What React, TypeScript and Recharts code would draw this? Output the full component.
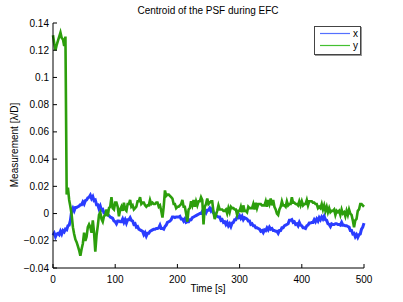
import React from 'react';
import { LineChart, Line, XAxis, YAxis, Legend } from 'recharts';

// samples every 2 s from 0 to 500 s
const SAMPLE_STEP = 2;

// x centroid, in units of 1e-3 λ/D
const xCentroid = [
  -16, -14.5, -17, -15, -14.5, -15.5, -13, -15, -12.5, -13.5,
  -11.5, -12, -9, -8.5, -5, 2, 4, 2, 4.5, 4.5,
  5, 5.5, 6.5, 6.5, 8.5, 7, 9.5, 10, 11.5, 12,
  13.5, 11, 12.5, 9.5, 10, 6.5, 6.5, 3.5, 5.5, 2.5,
  3, 0.5, 0.5, 0, -1, -1.5, -2.5, -3, -3.5, -5.5,
  -6, -7.5, -5.5, -5.5, -6, -6, -4, -6.5, -4.5, -7,
  -4.5, -4.5, -3, -5, -5.5, -8, -7.5, -10, -9.5, -11.5,
  -12, -12.5, -13, -15.5, -14, -16.5, -14.5, -14.5, -13, -12.5,
  -12, -11.5, -11.5, -11, -11, -10.5, -8.5, -11, -11, -11.5,
  -9.5, -8.5, -6.5, -6, -5.5, -4.5, -2.5, -2.5, -3, -2.5,
  -2.5, -2.5, -2, -4, -4, -5.5, -4, -6.5, -6, -6,
  -4.5, -4.5, -3, -2.5, -2, -1.5, -1, -0.5, 0, 0,
  1.5, -0.5, 2, 0.5, 2.5, 2.5, 4, 2, 3.5, 0.5,
  0, -1.5, -2, -2.5, -2.5, -5, -4.5, -6.5, -6, -8,
  -6.5, -9, -7.5, -9.5, -7, -6.5, -4.5, -4.5, -2.5, -3,
  -1.5, -3.5, -2, -4.5, -3, -3.5, -4, -5.5, -5.5, -8,
  -7.5, -9, -9, -10.5, -10.5, -11, -11.5, -13, -12.5, -14,
  -12, -12.5, -10.5, -12, -10, -11.5, -11, -12.5, -12.5, -13,
  -13, -14.5, -12.5, -12.5, -10.5, -10.5, -9, -8.5, -8, -7.5,
  -5, -5, -4.5, -6.5, -6, -8, -7.5, -9, -6.5, -8.5,
  -9, -10.5, -10.5, -11, -9, -8.5, -7, -7, -6.5, -6.5,
  -4.5, -6, -4, -5.5, -3, -4.5, -2.5, -4, -2, -4.5,
  -5, -7.5, -8, -9.5, -7.5, -8, -8, -7.5, -7.5, -8,
  -8, -8.5, -6.5, -8.5, -8.5, -9, -9, -9.5, -10, -12.5,
  -12.5, -15, -14.5, -17, -15.5, -17.5, -15.5, -15, -11.5, -10,
  -7,
];

// y centroid, in units of 1e-3 λ/D
const yCentroid = [
  131, 125, 120, 124, 127, 130, 133, 129, 128, 123,
  130, 14, 19, 10, 5, -1, -10, -15, -19, -21,
  -24, -27, -31, -26, -22, -14, -20, -17, -10, -8,
  -10, -14, -5, -14, -28, -16, -9, -1, 1, -4,
  -6, -2, -1, 3, -2, 4, 5, 12, 4, 3,
  8, 8, 5, -2, 3, 5, 2, 8, 3, 2,
  7, 7, 10, 5, 6, 3, 4, 5, 9, 9,
  12, 7, 8, 8, 6, 5, 6, 6, 10, 7,
  8, 7, 7, 8, 8, 5, 6, 2, -3, 5,
  17, 13, 14, 14, 13, 12, 11, 7, 7, 4,
  5, 5, 6, 7, 10, 5, 5, 0, -6, 3,
  4, 9, 6, 10, 5, 9, 6, 9, 9, 12,
  10, -8, 5, 7, 11, 7, 8, 9, 9, 1,
  -4, -1, 2, 6, 3, 3, 3, 2, 2, 3,
  0, 4, 1, 5, 4, 4, 3, 3, -1, 2,
  2, 5, 1, 6, 2, 2, 1, 5, 4, 4,
  4, 7, 3, 8, 4, 7, 7, 7, 6, 6,
  6, 9, 5, 10, 7, 11, 6, 10, 5, 3,
  0, -1, 3, 5, 9, 6, 6, 5, 9, 6,
  7, 7, 12, 8, 8, 7, 7, 6, 9, 6,
  9, 6, 7, 7, 10, 6, 9, 9, 9, 8,
  8, 7, 7, 4, 5, 4, 7, 3, 6, 2,
  5, 1, 4, 1, 2, 2, 3, -1, 2, 1,
  2, -1, 3, 0, 1, -2, 2, -1, 3, 0,
  -1, -5, -10, -5, -4, 2, 3, 7, 7, 6,
  5,
];

const xTicks = [0, 100, 200, 300, 400, 500];
const yTicks = [-0.04, -0.02, 0, 0.02, 0.04, 0.06, 0.08, 0.1, 0.12, 0.14];

const data = xCentroid.map((v, i) => ({
  t: i * SAMPLE_STEP,
  x: v / 1000,
  y: yCentroid[i] / 1000,
}));

const FONT = '"Liberation Sans", Arial, sans-serif';
const BLUE = '#2a3cff';
const GREEN = '#2c9e0c';

const fmtY = (v: number) => String(+v.toFixed(2)).replace('-', '\u2212');

const BottomTick = (props: any) => {
  const { x, y, payload } = props;
  return (
    <g>
      <line x1={x} x2={x} y1={y - 6} y2={y - 10} stroke="#000" />
      <text x={x} y={y + 9} textAnchor="middle" fontSize={10} fontFamily={FONT} fill="#000">
        {payload.value}
      </text>
    </g>
  );
};

const LeftTick = (props: any) => {
  const { x, y, payload } = props;
  return (
    <g>
      <line x1={x + 4} x2={x + 8} y1={y} y2={y} stroke="#000" />
      <text x={x} y={y + 3.5} textAnchor="end" fontSize={10} fontFamily={FONT} fill="#000">
        {fmtY(payload.value)}
      </text>
    </g>
  );
};

const TopTick = (props: any) => {
  const { x, y } = props;
  return <line x1={x} x2={x} y1={y} y2={y + 4} stroke="#000" />;
};

const RightTick = (props: any) => {
  const { x, y } = props;
  return <line x1={x} x2={x - 4} y1={y} y2={y} stroke="#000" />;
};

const LegendBox = () => (
  <div
    style={{
      width: 45,
      height: 25,
      border: '1px solid #444',
      boxShadow: '1px 1px 0 #999',
      background: '#fff',
      fontFamily: FONT,
      fontSize: 10,
      lineHeight: '11px',
      padding: '1px 0',
    }}
  >
    {[
      { name: 'x', color: '#5570ff' },
      { name: 'y', color: '#44c030' },
    ].map((s) => (
      <div key={s.name} style={{ display: 'flex', alignItems: 'center', height: 11.5 }}>
        <svg width={38} height={11}>
          <line x1={5} x2={35} y1={5.5} y2={5.5} stroke={s.color} strokeWidth={1.2} />
        </svg>
        <span>{s.name}</span>
      </div>
    ))}
  </div>
);

export default function App() {
  return (
    <div style={{ position: 'absolute', left: 0, top: 0, width: 403, height: 302, background: '#fff' }}>
      <LineChart width={403} height={302} data={data} margin={{ top: 23, right: 39, bottom: 0, left: 0 }}>
        <text x={208} y={14} textAnchor="middle" fontSize={10} fontFamily={FONT} fill="#000">
          Centroid of the PSF during EFC
        </text>
        <text x={208} y={292} textAnchor="middle" fontSize={10} fontFamily={FONT} fill="#000">
          Time [s]
        </text>
        <text
          x={14}
          y={145}
          transform="rotate(-90, 14, 145)"
          textAnchor="middle"
          dominantBaseline="central"
          fontSize={10}
          fontFamily={FONT}
          fill="#000"
        >
          Measurement [λ/D]
        </text>
        <XAxis
          dataKey="t"
          type="number"
          domain={[0, 500]}
          ticks={xTicks}
          height={34}
          tickSize={0}
          tickMargin={6}
          tickLine={false}
          axisLine={{ stroke: '#000' }}
          tick={<BottomTick />}
        />
        <XAxis
          xAxisId="top"
          dataKey="t"
          type="number"
          orientation="top"
          domain={[0, 500]}
          ticks={xTicks}
          height={0}
          tickSize={0}
          tickMargin={0}
          tickLine={false}
          axisLine={{ stroke: '#000' }}
          tick={<TopTick />}
        />
        <YAxis
          type="number"
          domain={[-0.04, 0.14]}
          ticks={yTicks}
          width={53}
          tickSize={0}
          tickMargin={4}
          tickLine={false}
          axisLine={{ stroke: '#000' }}
          tick={<LeftTick />}
        />
        <YAxis
          yAxisId="right"
          type="number"
          orientation="right"
          domain={[-0.04, 0.14]}
          ticks={yTicks}
          width={0}
          tickSize={0}
          tickMargin={0}
          tickLine={false}
          axisLine={{ stroke: '#888', strokeWidth: 2 }}
          tick={<RightTick />}
        />
        <Legend
          layout="horizontal"
          align="center"
          verticalAlign="middle"
          wrapperStyle={{ top: 26, left: 314, width: 'auto' }}
          content={<LegendBox />}
        />
        <Line
          type="linear"
          dataKey="x"
          stroke={BLUE}
          strokeWidth={3}
          dot={false}
          isAnimationActive={false}
        />
        <Line
          type="linear"
          dataKey="y"
          stroke={GREEN}
          strokeWidth={2.6}
          dot={false}
          isAnimationActive={false}
        />
      </LineChart>
    </div>
  );
}
